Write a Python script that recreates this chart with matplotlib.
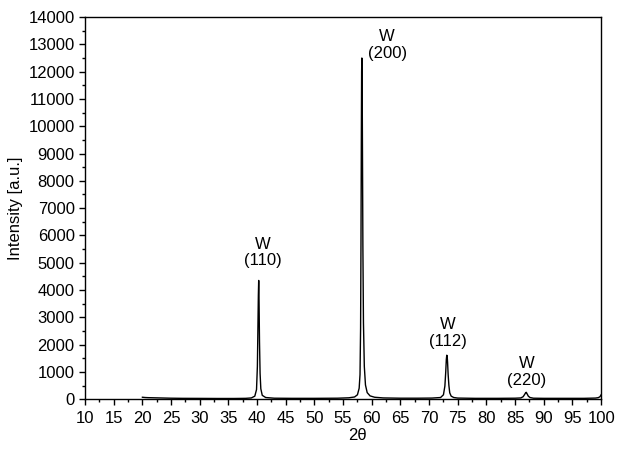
import matplotlib
matplotlib.use("Agg")
import matplotlib.pyplot as plt
from matplotlib.ticker import MultipleLocator

plt.rcParams['font.family'] = ['Liberation Sans', 'DejaVu Sans']

# XRD pattern (2theta in degrees, intensity in a.u.)
two_theta = [20.0, 20.5, 21.0, 22.0, 23.0, 24.0, 25.0, 27.0, 30.0, 33.0, 36.0, 38.0,
             39.0, 39.6, 39.9, 40.05, 40.15, 40.22, 40.28, 40.34, 40.42, 40.52, 40.65, 40.9, 41.5,
             43.0, 46.0, 50.0, 54.0, 56.0, 57.0, 57.5, 57.8, 57.95, 58.05, 58.12, 58.18,
             58.23, 58.27, 58.32, 58.38, 58.45, 58.55, 58.7, 58.9, 59.2, 59.7, 60.5,
             62.0, 65.0, 68.0, 70.5, 72.0, 72.5, 72.75, 72.9, 73.0, 73.08, 73.15, 73.22,
             73.32, 73.45, 73.6, 73.85, 74.3, 75.0, 78.0, 82.0, 85.0, 86.0, 86.4, 86.65,
             86.85, 86.95, 87.1, 87.3, 87.6, 88.2, 90.0, 94.0, 97.0, 99.0, 99.5, 99.8, 100.0]
intensity = [70, 60, 55, 50, 45, 40, 35, 30, 28, 25, 25, 30,
             45, 110, 350, 1200, 2700, 3800, 4350, 3600, 2100, 950, 380, 140, 60,
             35, 30, 30, 35, 50, 80, 160, 400, 900, 2600, 5800, 9500,
             12000, 12500, 11800, 9000, 5600, 2800, 1200, 520, 240, 120, 70,
             45, 35, 35, 40, 60, 160, 480, 1000, 1450, 1610, 1580, 1350,
             900, 500, 230, 110, 60, 40, 30, 30, 35, 45, 90, 170,
             240, 250, 190, 110, 60, 35, 30, 30, 30, 40, 55, 90, 160]

peak_labels = ["W\n(110)", "W\n(200)", "W\n(112)", "W\n(220)"]
label_x = [41.05, 62.7, 73.3, 86.95]
label_y = [4800, 12400, 1850, 420]

fig = plt.figure(figsize=(6.21, 4.49), dpi=100)
ax = fig.add_axes([0.137, 0.111, 0.831, 0.851])

ax.plot(two_theta, intensity, color='black', linewidth=1.0)

for txt, x, y in zip(peak_labels, label_x, label_y):
    ax.text(x, y, txt, ha='center', va='bottom', fontsize=12, linespacing=1.12)

ax.set_xlim(10, 100)
ax.set_ylim(0, 14000)
ax.xaxis.set_major_locator(MultipleLocator(5))
ax.xaxis.set_minor_locator(MultipleLocator(2.5))
ax.yaxis.set_major_locator(MultipleLocator(1000))
ax.yaxis.set_minor_locator(MultipleLocator(500))
ax.tick_params(which='major', direction='out', length=4.5, width=1, labelsize=12)
ax.tick_params(axis='x', which='major', pad=4)
ax.tick_params(axis='y', which='major', pad=3)
ax.tick_params(which='minor', direction='out', length=2.5, width=1)
for s in ax.spines.values():
    s.set_linewidth(1)

ax.set_xlabel('2θ', fontsize=12)
ax.xaxis.set_label_coords(0.527, -0.075)
ax.set_ylabel('Intensity [a.u.]', fontsize=12, labelpad=4)

fig.savefig('out.png', dpi=100)
